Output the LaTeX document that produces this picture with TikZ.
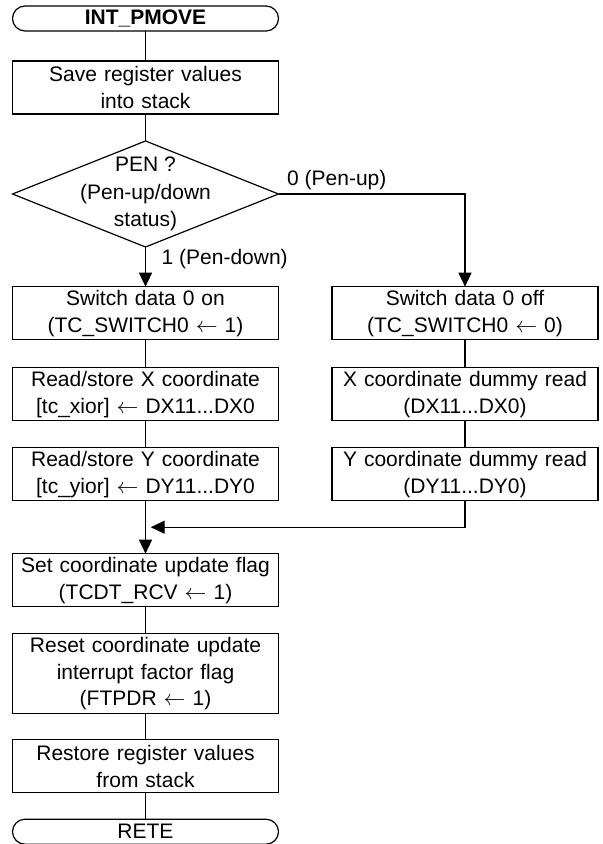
\documentclass[tikz,border=0pt]{standalone}
\usepackage{fontspec}
\setmainfont{Liberation Sans}
\usepackage{tikz}
\usetikzlibrary{positioning, arrows.meta, shapes.geometric, calc}
\tikzset{
  proc/.style={
    draw=black, line width=0.6pt,
    rectangle, text width=133pt, minimum height=26.5pt,
    inner sep=0pt, outer sep=0pt, align=center,
    font=\fontsize{10.5}{13.4}\selectfont,
  },
  proc3/.style={proc, minimum height=40pt},
  term/.style={proc, rounded corners=6.25pt, minimum height=12.5pt},
  decision/.style={
    draw=black, line width=0.6pt,
    diamond, minimum width=133pt, minimum height=53pt,
    inner sep=0pt, outer sep=0pt,
  },
  dtext/.style={align=center, inner sep=0pt, font=\fontsize{10.5}{13.75}\selectfont},
  lbl/.style={font=\fontsize{10.5}{13.4}\selectfont, inner sep=0pt},
  line/.style={draw=black, line width=0.6pt},
}

\begin{document}
\begin{tikzpicture}[node distance=14pt and 26.75pt,
  >={Triangle[length=7pt, width=6.5pt]}]

\useasboundingbox (0,0) rectangle (301pt,-422pt);

\node[term] (start) at (72.75pt,-9.25pt) {\textbf{INT\_PMOVE}};
\node[proc, below=15pt of start] (save) {Save register values\\into stack};
\node[decision, below=13.5pt of save,
  label={[dtext]center:PEN ?\\(Pen-up/down\\status)}] (pen) {};
\node[proc, below=19.85pt of pen] (swon) {Switch data 0 on\\(TC\_SWITCH0 $\leftarrow$ 1)};
\node[proc, right=of swon] (swoff) {Switch data 0 off\\(TC\_SWITCH0 $\leftarrow$ 0)};
\node[proc, below=of swon] (rdx) {Read/store X coordinate\\{[tc\_xior]} $\leftarrow$ DX11...DX0};
\node[proc, below=of swoff] (dmx) {X coordinate dummy read\\(DX11...DX0)};
\node[proc, below=13.5pt of rdx] (rdy) {Read/store Y coordinate\\{[tc\_yior]} $\leftarrow$ DY11...DY0};
\node[proc, below=13.5pt of dmx] (dmy) {Y coordinate dummy read\\(DY11...DY0)};
\node[proc, below=26.5pt of rdy] (setf) {Set coordinate update flag\\(TCDT\_RCV $\leftarrow$ 1)};
\node[proc3, below=13.5pt of setf] (rstf) {Reset coordinate update\\interrupt factor flag\\(FTPDR $\leftarrow$ 1)};
\node[proc, below=13pt of rstf] (rest) {Restore register values\\from stack};
\node[term, below=13.25pt of rest] (rete) {RETE};

% branch labels
\node[lbl, anchor=base west] (pup) at ([xshift=4.15pt, yshift=4.35pt]pen.east) {0 (Pen-up)};
\node[lbl, anchor=base west] (pdown) at ([xshift=7.9pt, yshift=-8.5pt]pen.south) {1 (Pen-down)};

% merge point
\coordinate (mj) at ($(rdy.south)!0.5!(setf.north)$);
\coordinate (mjr) at ([xshift=2.6pt]mj);

\draw[line] (start) -- (save);
\draw[line] (save) -- (pen);
\draw[line, ->] (pen) -- (swon);
\draw[line, ->] (pen.east) -| (swoff.north);
\draw[line] (swon) -- (rdx);
\draw[line] (rdx) -- (rdy);
\draw[line] (swoff) -- (dmx);
\draw[line] (dmx) -- (dmy);
\draw[line, ->] (rdy) -- (setf);
\draw[line, ->] (dmy.south) |- (mjr);
\draw[line] (setf) -- (rstf);
\draw[line] (rstf) -- (rest);
\draw[line] (rest) -- (rete);

\end{tikzpicture}
\end{document}
